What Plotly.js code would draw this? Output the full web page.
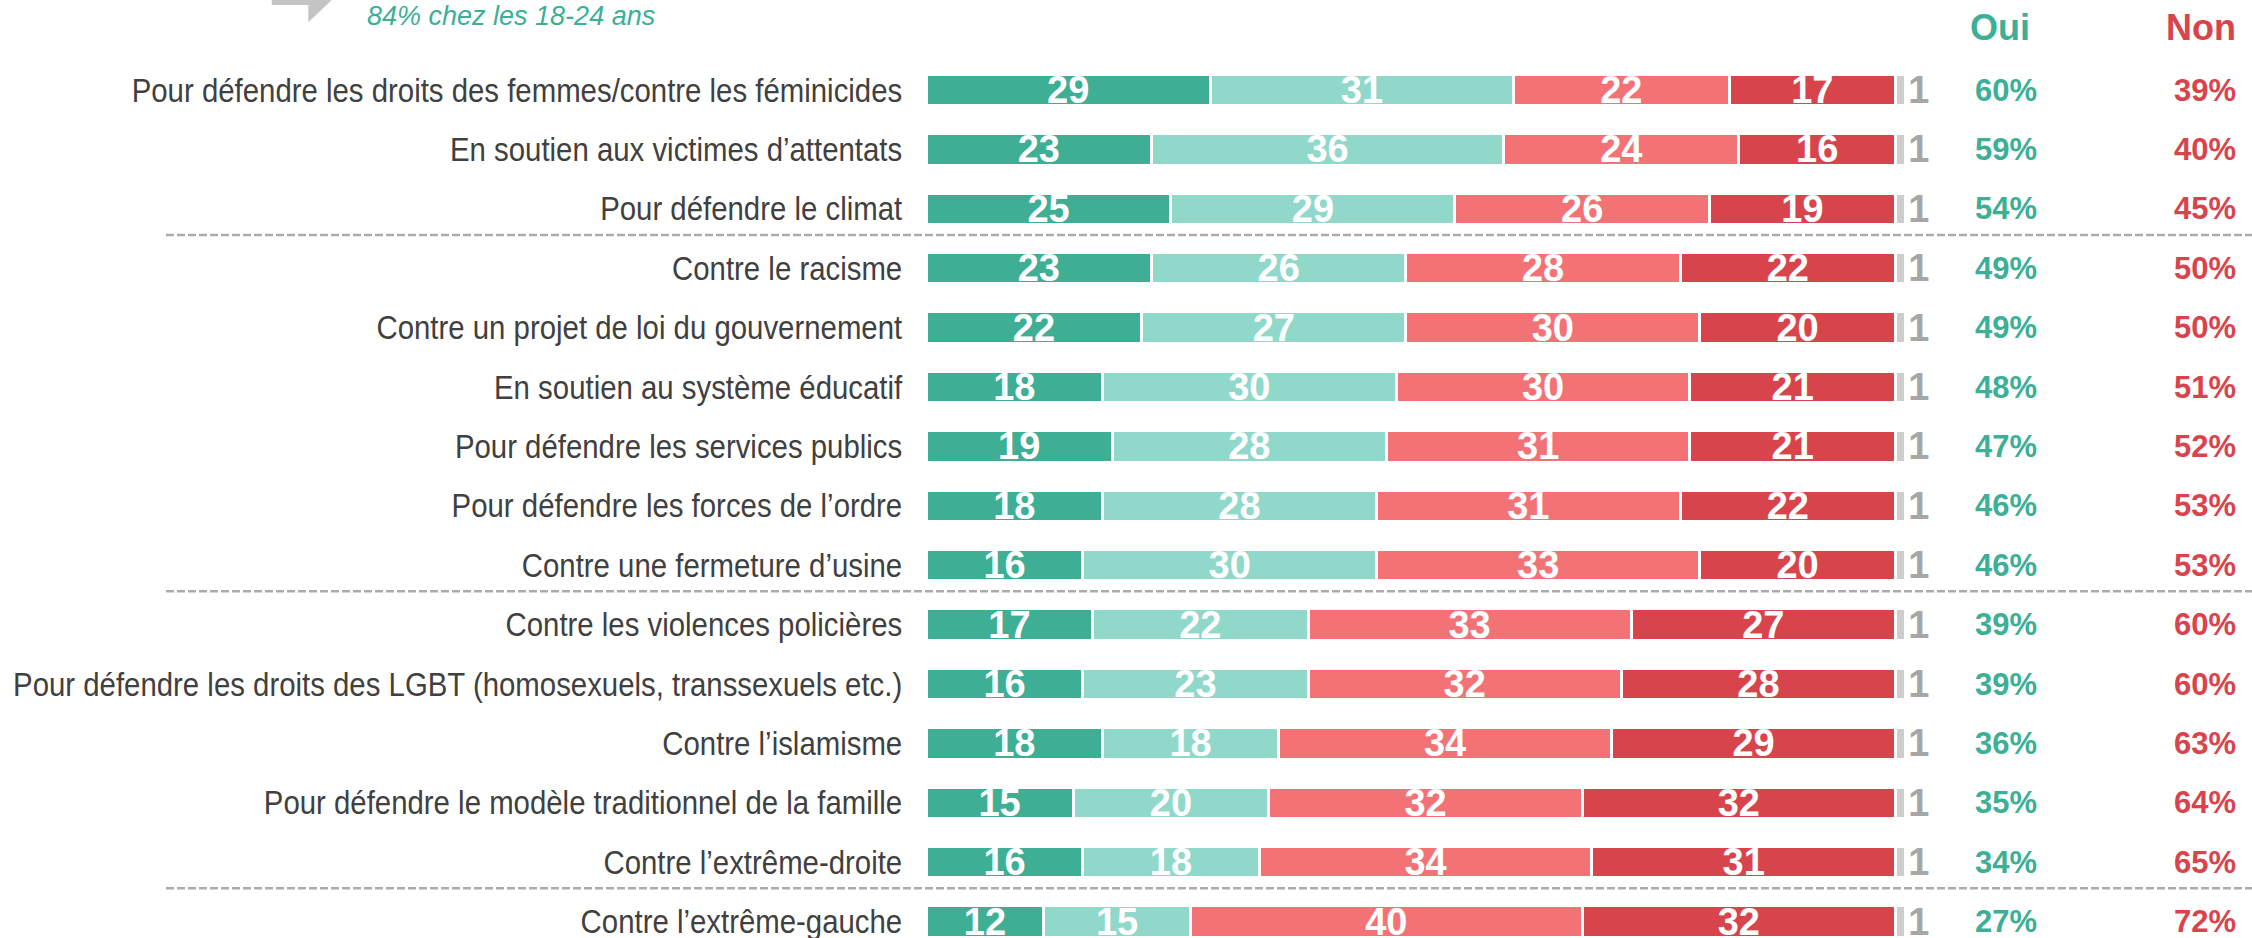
<!DOCTYPE html>
<html>
<head>
<meta charset="utf-8">
<script src="https://cdn.plot.ly/plotly-3.0.1.min.js"></script>
<style>
html,body{margin:0;padding:0;background:#fff;}
#chart{width:2252px;height:938px;}
</style>
</head>
<body>
<div id="chart"></div>
<script>
// ---- data ----
const categories = [
  "Pour défendre les droits des femmes/contre les féminicides",
  "En soutien aux victimes d’attentats",
  "Pour défendre le climat",
  "Contre le racisme",
  "Contre un projet de loi du gouvernement",
  "En soutien au système éducatif",
  "Pour défendre les services publics",
  "Pour défendre les forces de l’ordre",
  "Contre une fermeture d’usine",
  "Contre les violences policières",
  "Pour défendre les droits des LGBT (homosexuels, transsexuels etc.)",
  "Contre l’islamisme",
  "Pour défendre le modèle traditionnel de la famille",
  "Contre l’extrême-droite",
  "Contre l’extrême-gauche"
];
const ouiToutAFait   = [29, 23, 25, 23, 22, 18, 19, 18, 16, 17, 16, 18, 15, 16, 12];
const ouiPlutot      = [31, 36, 29, 26, 27, 30, 28, 28, 30, 22, 23, 18, 20, 18, 15];
const nonPlutotPas   = [22, 24, 26, 28, 30, 30, 31, 31, 33, 33, 32, 34, 32, 34, 40];
const nonPasDuTout   = [17, 16, 19, 22, 20, 21, 21, 22, 20, 27, 28, 29, 32, 31, 32];
const nsp            = [1, 1, 1, 1, 1, 1, 1, 1, 1, 1, 1, 1, 1, 1, 1];
const totalOui       = [60, 59, 54, 49, 49, 48, 47, 46, 46, 39, 39, 36, 35, 34, 27];
const totalNon       = [39, 40, 45, 50, 50, 51, 52, 53, 53, 60, 60, 63, 64, 65, 72];
const seriesNames    = ["Oui, tout à fait", "Oui, plutôt", "Non, plutôt pas", "Non, pas du tout", "Nsp"];
const groupBreaks    = [3, 9, 14]; // separator lines placed before these row indices
const noteText       = "84% chez les 18-24 ans";

// ---- layout constants (pixels) ----
const W = 2252, H = 938;
const X0PX = 926.2, UNIT = 9.791;          // px position of value 0, px per unit
const ROW0PX = 90, ROWSTEP = 59.4;         // center of first row, row spacing
const px2x = p => (p - X0PX) / UNIT;
const px2py = p => 1 - p / H;
const px2px = p => p / W;

const colors = ["#3eae95", "#90d8c9", "#f37276", "#d8444b", "#cdcdcd"];
const TEAL = "#3daf96", RED = "#d9444c";
const SANS = "'Liberation Sans', Arial, sans-serif";
const LABEL_CONDENSE = 0.89;

const seriesValues = [ouiToutAFait, ouiPlutot, nonPlutotPas, nonPasDuTout, nsp];
const traces = seriesValues.map((vals, k) => ({
  type: "bar",
  orientation: "h",
  name: seriesNames[k],
  y: categories,
  x: vals,
  width: 0.53,
  marker: {color: colors[k], line: {color: "#ffffff", width: 3}},
  text: vals.map(String),
  textposition: k < 4 ? "inside" : "outside",
  insidetextanchor: "middle",
  textangle: 0,
  constraintext: "none",
  cliponaxis: false,
  textfont: {family: SANS, size: 38, color: k < 4 ? "#ffffff" : "#a6a6a6", weight: "bold"},
  hoverinfo: "x+y+name",
  showlegend: false
}));

const annotations = [];
categories.forEach((c, i) => {
  annotations.push({
    xref: "x", yref: "y", x: px2x(2005.5), y: c, xanchor: "center", yanchor: "middle",
    text: totalOui[i] + "%", showarrow: false,
    font: {family: SANS, size: 31, color: TEAL, weight: "bold"}
  });
  annotations.push({
    xref: "x", yref: "y", x: px2x(2238), y: c, xanchor: "right", yanchor: "middle",
    text: totalNon[i] + "%", showarrow: false,
    font: {family: SANS, size: 31, color: RED, weight: "bold"}
  });
});
annotations.push({
  xref: "x", yref: "paper", x: px2x(2000), y: px2py(27), xanchor: "center", yanchor: "middle",
  text: "Oui", showarrow: false, font: {family: SANS, size: 36, color: TEAL, weight: "bold"}
});
annotations.push({
  xref: "x", yref: "paper", x: px2x(2200.5), y: px2py(27), xanchor: "center", yanchor: "middle",
  text: "Non", showarrow: false, font: {family: SANS, size: 36, color: RED, weight: "bold"}
});
annotations.push({
  xref: "paper", yref: "paper", x: px2px(365), y: px2py(16), xanchor: "left", yanchor: "middle",
  text: noteText, showarrow: false, font: {family: SANS, size: 27, color: TEAL, style: "italic"}
});

const shapes = groupBreaks.map(b => ({
  type: "line", xref: "paper", yref: "y",
  x0: px2px(166), x1: 1, y0: b - 0.56, y1: b - 0.56,
  line: {color: "#ababab", width: 2.5, dash: "8px,3px"}
}));
// bent-arrow tip (decoration, top left)
const arrowPts = [[271.7, 0], [331.7, 0], [308.3, 22.3], [308.3, 5], [271.7, 5]];
shapes.push({
  type: "path", xref: "paper", yref: "paper",
  path: "M " + arrowPts.map(p => px2px(p[0]) + "," + px2py(p[1])).join(" L ") + " Z",
  fillcolor: "#c4c4c4", line: {width: 0}
});

const yTop = -ROW0PX / ROWSTEP;
const yBot = (H - ROW0PX) / ROWSTEP;

const layout = {
  width: W, height: H,
  margin: {l: 0, r: 0, t: 0, b: 0, pad: 0},
  paper_bgcolor: "#ffffff", plot_bgcolor: "#ffffff",
  barmode: "stack",
  bargap: 0,
  xaxis: {range: [px2x(0), px2x(W)], visible: false, fixedrange: true, domain: [0, 1]},
  yaxis: {
    type: "category", categoryorder: "array", categoryarray: categories,
    range: [yBot, yTop], anchor: "free", position: X0PX / W,
    showgrid: false, zeroline: false, showline: false, ticks: "",
    ticklabelstandoff: 24,
    tickfont: {family: SANS, size: 33, color: "#404040"},
    domain: [0, 1], fixedrange: true
  },
  annotations: annotations,
  shapes: shapes,
  showlegend: false
};

// condense category labels to mimic the narrow typeface of the original
function condenseLabels() {
  document.querySelectorAll("#chart .ytick text").forEach(t => {
    t.removeAttribute("textLength");
    t.removeAttribute("lengthAdjust");
    const w = t.getComputedTextLength();
    t.setAttribute("lengthAdjust", "spacingAndGlyphs");
    t.setAttribute("textLength", (w * LABEL_CONDENSE).toFixed(2));
  });
}

Plotly.newPlot("chart", traces, layout, {displayModeBar: false, staticPlot: true})
  .then(gd => { condenseLabels(); gd.on("plotly_afterplot", condenseLabels); });
</script>
</body>
</html>
